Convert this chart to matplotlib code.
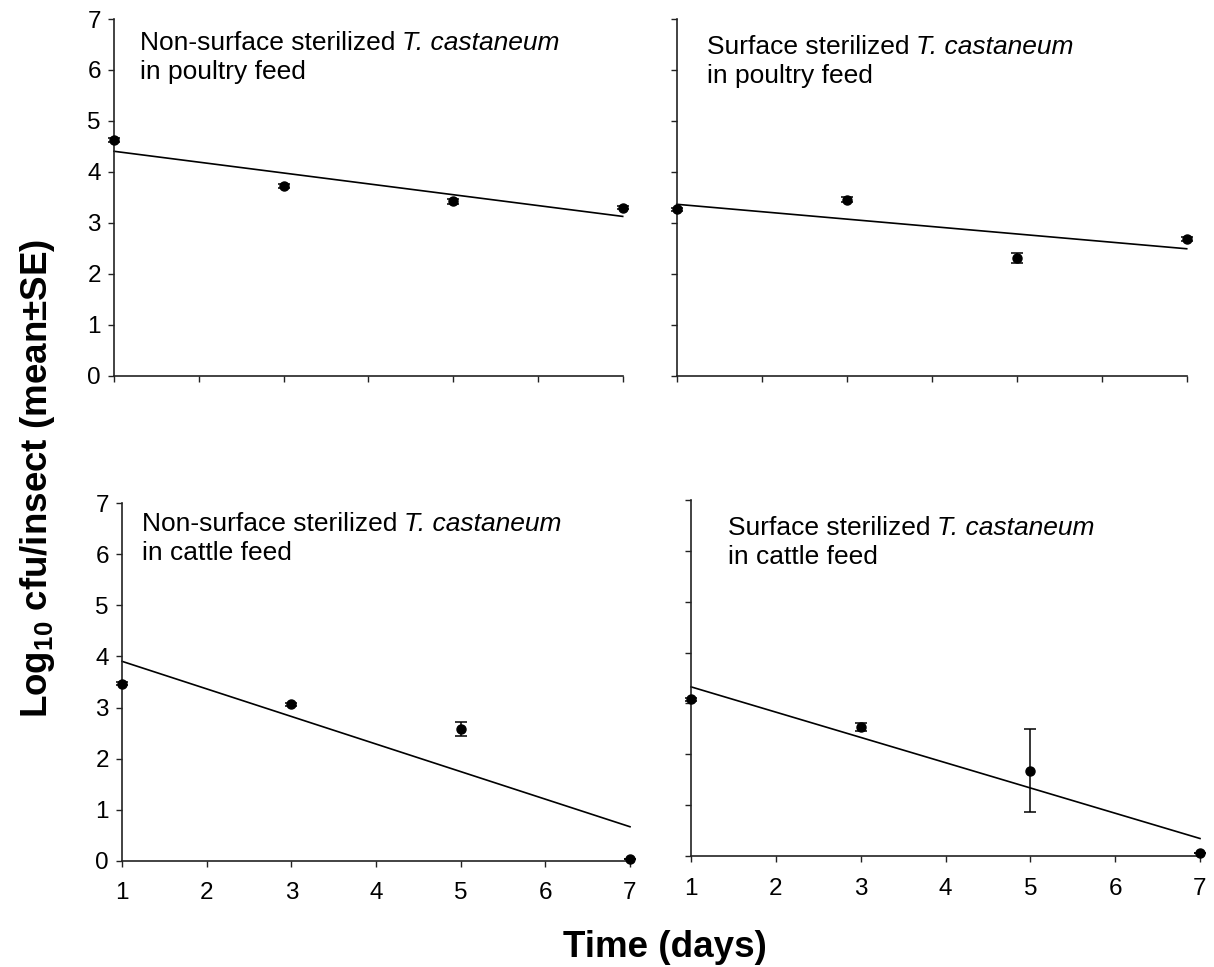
import matplotlib
matplotlib.use("Agg")
import matplotlib.pyplot as plt
import numpy as np

plt.rcParams['font.family'] = ['Liberation Sans', 'DejaVu Sans']
plt.rcParams['mathtext.fontset'] = 'custom'
plt.rcParams['mathtext.rm'] = 'Liberation Sans:bold'
plt.rcParams['mathtext.bf'] = 'Liberation Sans:bold'

# ---- data ----
days = [1, 3, 5, 7]
ns_poultry = [4.62, 3.72, 3.42, 3.30]
ns_poultry_se = [0.04, 0.04, 0.05, 0.03]
s_poultry = [3.27, 3.45, 2.31, 2.68]
s_poultry_se = [0.03, 0.05, 0.09, 0.04]
ns_cattle = [3.47, 3.06, 2.58, 0.03]
ns_cattle_se = [0.03, 0.03, 0.14, 0.0]
s_cattle = [3.08, 2.53, 1.68, 0.05]
s_cattle_se = [0.03, 0.08, 0.82, 0.0]

labels_plain = ['Non-surface sterilized', 'Surface sterilized',
                'Non-surface sterilized', 'Surface sterilized']
label_species = 'T. castaneum'
labels_feed = ['in poultry feed', 'in poultry feed', 'in cattle feed', 'in cattle feed']

series = [(ns_poultry, ns_poultry_se), (s_poultry, s_poultry_se),
          (ns_cattle, ns_cattle_se), (s_cattle, s_cattle_se)]

W, H = 1214, 967
fig = plt.figure(figsize=(W / 100, H / 100), dpi=100)

# axes boxes in pixels: (x0, x1, y_top(7), y_bottom(0))
boxes = [(114, 622.7, 19, 375.7), (676.7, 1186.7, 19, 375.7),
         (122, 630, 503.3, 860.7), (691, 1200, 500, 856)]
# text anchor pixels (x, first baseline)
text_pos = [(140, 50), (707, 54), (142, 531), (728, 535)]

FS = 19
for i, ((x0, x1, yt, yb), (vals, se), (tx, ty)) in enumerate(zip(boxes, series, text_pos)):
    ax = fig.add_axes([x0 / W, 1 - yb / H, (x1 - x0) / W, (yb - yt) / H])
    ax.set_xlim(1, 7)
    ax.set_ylim(0, 7)
    ax.errorbar(days, vals, yerr=se, fmt='o', color='black', ms=6.5,
                capsize=4.5, elinewidth=1.1, capthick=1.1, clip_on=False, zorder=3)
    coef = np.polyfit(days, vals, 1)
    xx = np.array([1, 7])
    ax.plot(xx, np.polyval(coef, xx), color='black', lw=1.2, clip_on=False)
    for s in ['top', 'right']:
        ax.spines[s].set_visible(False)
    for s in ['left', 'bottom']:
        ax.spines[s].set_linewidth(1.2)
        ax.spines[s].set_color('#222222')
    ax.set_xticks(range(1, 8))
    ax.set_yticks(range(0, 8))
    ax.tick_params(direction='out', length=4.5, width=1.0, labelsize=17.5,
                   colors='#222222', labelcolor='black')
    ax.tick_params(axis='x', pad=11)
    ax.tick_params(axis='y', pad=5)
    if i < 2:
        ax.tick_params(axis='x', labelbottom=False)
    if i % 2 == 1:
        ax.tick_params(axis='y', labelleft=False)
    t1 = fig.text(tx / W, 1 - ty / H, labels_plain[i], fontsize=FS, va='baseline', ha='left')
    fig.text(tx / W, 1 - (ty + 29) / H, labels_feed[i], fontsize=FS, va='baseline', ha='left')
    ax.annotate(label_species, xy=(1, 0), xycoords=t1, xytext=(5, 0),
                textcoords='offset points', fontsize=FS, style='italic',
                ha='left', va='bottom', annotation_clip=False)

fig.text(665 / W, 1 - 957 / H, 'Time (days)', fontsize=26.5, fontweight='bold',
         ha='center', va='baseline')
fig.text(38 / W, 1 - 478 / H, r'Log$_{10}$ cfu/insect (mean±SE)', fontsize=26.5,
         fontweight='bold', rotation=90, ha='center', va='center')

fig.savefig('out.png', dpi=100)
